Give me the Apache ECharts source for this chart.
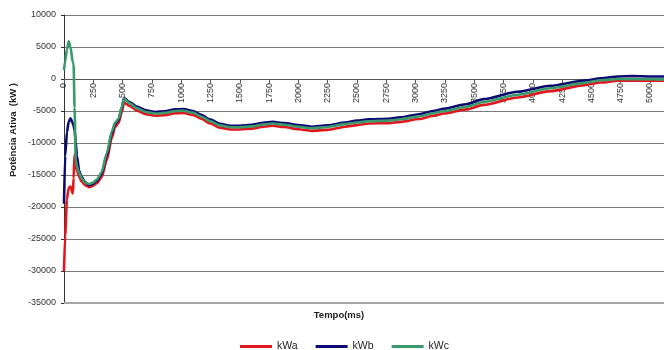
<!DOCTYPE html>
<html>
<head>
<meta charset="utf-8">
<script src="https://cdn.jsdelivr.net/npm/echarts@6/dist/echarts.min.js"></script>
<style>
  html, body { margin: 0; padding: 0; background: #fff; }
  #chart { width: 664px; height: 350px; }
</style>
</head>
<body>
<div id="chart"></div>
<script>
// Time stamps (ms) shared by the three phases
const tempoMs = [0,10,25,40,55,75,82,90,100,110,130,150,180,215,
  245,280,320,365,408,436,465,493,512,
  560,620,700,780,860,950,1020,1100,1170,1250,1330,1420,1500,1600,1700,1780,1880,2000,2110,2250,2400,2500,2600,2770,2870,3030,3150,3240,3430,3580,3870,4150,4440,4580,4730,4850,5000,5120];

// Active power per phase (kW)
const kWa = [-30000,-24500,-18800,-17000,-16800,-17900,-15500,-11800,-13200,-14300,-15300,-16000,-16600,-16900,
  -16700,-16300,-15400,-12700,-9200,-7500,-6900,-5200,-3700,
  -4200,-4900,-5500,-5750,-5650,-5350,-5300,-5600,-6200,-6950,-7600,-7900,-7900,-7750,-7450,-7300,-7500,-7850,-8100,-7950,-7450,-7200,-6950,-6900,-6700,-6250,-5750,-5400,-4750,-4050,-2900,-1900,-950,-550,-280,-260,-260,-260];

const kWb = [-19500,-12000,-8300,-6700,-6150,-6900,-7300,-8000,-9800,-12000,-14400,-15300,-16100,-16600,
  -16400,-15900,-14900,-12000,-8500,-7000,-6400,-4500,-3000,
  -3600,-4300,-4900,-5150,-5050,-4750,-4700,-5000,-5600,-6350,-7000,-7300,-7300,-7150,-6850,-6700,-6900,-7200,-7450,-7250,-6800,-6500,-6300,-6200,-6000,-5500,-5000,-4650,-3950,-3150,-2000,-1050,-250,100,400,450,400,380];

const kWc = [1400,2800,4600,5900,5000,2600,2300,-4500,-12600,-13700,-14700,-15500,-16200,-16400,
  -16200,-15700,-14600,-11600,-8200,-6800,-6200,-4400,-3100,
  -3800,-4550,-5150,-5400,-5300,-5000,-4950,-5250,-5850,-6600,-7250,-7550,-7550,-7400,-7100,-6950,-7150,-7450,-7700,-7500,-7050,-6800,-6600,-6500,-6300,-5850,-5350,-5000,-4350,-3600,-2450,-1450,-600,-200,0,-30,-50,-60];

const seriesNames = ['kWa', 'kWb', 'kWc'];
const seriesColors = ['#e3161e', '#0a0a72', '#3a9a6c'];
const seriesValues = [kWa, kWb, kWc];

// Axis ranges
const tempoMax = 5120;
const potMin = -35000;
const potMax = 10000;

// Plot area
const CHART_H = 350;
const GRID_TOP = 15;
const GRID_BOTTOM = 47;
const plotH = CHART_H - GRID_TOP - GRID_BOTTOM;
// lift the time axis from the plot floor up to the 0 kW line
const zeroLift = (0 - potMin) / (potMax - potMin) * plotH;

const FONT = '"Liberation Sans", Arial, sans-serif';
const plain = v => String(v);

const chart = echarts.init(document.getElementById('chart'), null, { renderer: 'canvas' });

chart.setOption({
  animation: false,
  backgroundColor: '#ffffff',
  grid: { left: 64, right: 0, top: GRID_TOP, bottom: GRID_BOTTOM, containLabel: false },
  legend: {
    data: seriesNames,
    left: 235,
    top: 336,
    icon: 'rect',
    itemWidth: 32,
    itemHeight: 3,
    itemGap: 18,
    textStyle: { fontFamily: FONT, fontSize: 10.5, color: '#222' }
  },
  xAxis: {
    type: 'value',
    min: 0,
    max: tempoMax,
    interval: 250,
    position: 'bottom',
    offset: -zeroLift,
    axisLine: { onZero: false, lineStyle: { color: '#555', width: 1 } },
    axisTick: { show: true, length: 4, lineStyle: { color: '#555' } },
    axisLabel: {
      rotate: 90,
      margin: 4,
      fontFamily: FONT,
      fontSize: 9,
      color: '#333',
      showMaxLabel: false,
      formatter: plain
    },
    splitLine: { show: false }
  },
  yAxis: {
    type: 'value',
    min: potMin,
    max: potMax,
    interval: 5000,
    axisLine: { show: true, lineStyle: { color: '#333', width: 1 } },
    axisTick: { show: true, length: 3, lineStyle: { color: '#333' } },
    axisLabel: { margin: 8, fontFamily: FONT, fontSize: 9, color: '#333', formatter: plain },
    splitLine: { show: true, lineStyle: { color: '#7a7a7a', width: 1 } }
  },
  graphic: [
    {
      type: 'text',
      x: 13,
      y: 130,
      rotation: Math.PI / 2,
      style: {
        text: 'Potência Ativa  (kW )',
        fontFamily: FONT,
        fontSize: 9.5,
        fontWeight: 'bold',
        fill: '#222',
        align: 'center',
        verticalAlign: 'middle'
      }
    },
    {
      type: 'text',
      x: 339,
      y: 315,
      style: {
        text: 'Tempo(ms)',
        fontFamily: FONT,
        fontSize: 9.5,
        fontWeight: 'bold',
        fill: '#222',
        align: 'center',
        verticalAlign: 'middle'
      }
    }
  ],
  series: seriesNames.map((name, i) => ({
    name: name,
    type: 'line',
    data: tempoMs.map((t, k) => [t, seriesValues[i][k]]),
    showSymbol: false,
    symbol: 'none',
    smooth: 0.25,
    smoothMonotone: 'x',
    lineStyle: { color: seriesColors[i], width: 2.6 },
    itemStyle: { color: seriesColors[i] },
    z: 2 + i,
    // heavier floor line of the plot area
    markLine: i === 0 ? {
      silent: true,
      symbol: 'none',
      label: { show: false },
      lineStyle: { color: '#a6a6a6', width: 2, type: 'solid' },
      data: [{ yAxis: potMin }]
    } : undefined
  }))
});
</script>
</body>
</html>
